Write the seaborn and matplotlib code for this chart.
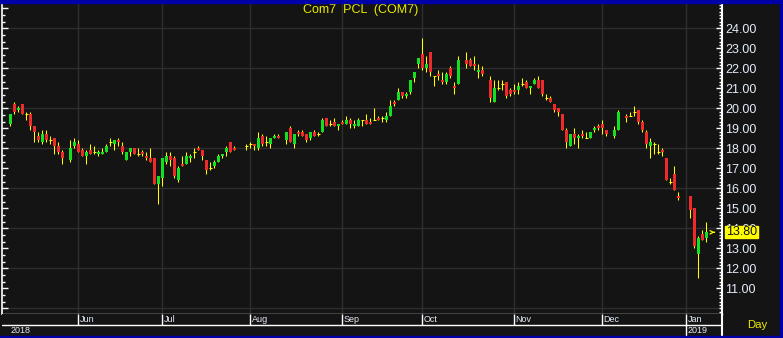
import numpy as np
import pandas as pd
import seaborn as sns
import matplotlib
matplotlib.use("Agg")
import matplotlib.pyplot as plt
from matplotlib.patches import Rectangle
from matplotlib import transforms
from matplotlib.ticker import MultipleLocator, FixedLocator

# ---------------- data ----------------
start_date = "2018-05-09"
end_date = "2019-01-08"
title = "Com7  PCL  (COM7)"
last_price = 13.80
price_ticks = list(range(11, 25))
month_labels = ["Jun", "Jul", "Aug", "Sep", "Oct", "Nov", "Dec", "Jan"]
year_labels = ["2018", "2019"]
N = None

open_ = [19.2, 20.2, 19.9, 20.2, 19.7, 19.7, 19.1, 18.6, 18.3, 18.7,
         18.4, 18.5, 18.1, 17.8, N, 17.4, 18.1, 18.2, 17.9, 17.6,
         17.9, 17.8, 17.7, 17.7, 17.8, 18.3, 18.2, 18.4, 18.1, 17.4,
         17.8, 18.0, 17.7, 17.8, 17.6, 17.5, 17.5, 16.2, 16.5, 17.3,
         17.6, 17.5, 16.4, 17.2, 17.2, 17.5, 17.8, 18.0, 17.9, 17.4,
         17.0, 17.1, 17.3, 17.6, 17.8, 18.3, 18.0, N, N, 18.1,
         18.2, 18.2, 18.0, 18.6, 18.3, 18.2, 18.5, 18.6, N, 18.4,
         19.0, 18.2, 18.8, 18.8, 18.7, 18.5, 18.8, 18.7, 18.8, 19.5,
         19.2, 19.3, 19.1, 19.3, 19.2, 19.4, 19.1, 19.1, 19.4, 19.4,
         19.3, 19.4, 19.5, 19.5, 19.4, 19.6, 20.3, 20.4, 20.8, 20.6,
         20.8, 21.5, 22.2, 22.7, 22.0, 22.8, 21.6, 21.7, 21.4, 21.3,
         22.0, 21.1, 21.2, N, 22.4, 22.4, 22.2, 21.8, 21.9, N,
         21.4, 20.3, 21.0, 21.2, 21.3, 20.9, 20.9, 20.9, 21.2, 21.3,
         21.0, 21.2, 21.4, 21.4, 20.5, 20.5, 20.2, 20.0, 19.7, 18.9,
         18.1, 18.7, 18.5, 18.7, 18.5, 18.5, 18.9, 19.1, 19.2, 18.9,
         N, 18.6, 18.9, N, 19.6, 19.6, 19.8, 19.9, 19.3, 18.8,
         18.1, 18.2, 17.8, 17.9, 17.5, 16.3, 16.7, 15.6, N, N,
         15.6, 15.0, 12.7, 13.7, 13.5]

high = [19.7, 20.3, 20.1, 20.2, 19.8, 19.8, 19.1, 18.8, 18.9, 18.9,
        18.6, 18.5, 18.3, 17.9, N, 18.4, 18.5, 18.4, 18.0, 17.9,
        18.2, 18.1, 17.9, 18.0, 18.2, 18.5, 18.4, 18.5, 18.3, 17.8,
        18.0, 18.0, 18.0, 17.9, 17.8, 18.0, 17.5, 16.6, 17.5, 17.8,
        17.8, 17.6, 17.1, 17.6, 17.8, 17.7, 18.0, 18.1, 17.9, 17.4,
        17.3, 17.4, 17.7, 17.7, 18.1, 18.3, 18.1, N, N, 18.2,
        18.3, 18.2, 18.8, 18.7, 18.6, 18.5, 18.7, 18.7, N, 18.8,
        19.1, 18.7, 18.9, 18.9, 18.7, 18.8, 18.9, 18.8, 19.5, 19.5,
        19.4, 19.5, 19.2, 19.4, 19.6, 19.5, 19.4, 19.5, 19.4, 19.7,
        19.5, 20.0, 19.6, 19.6, 19.8, 20.4, 20.4, 21.0, 20.8, 20.8,
        21.4, 21.8, 22.5, 23.5, 22.6, 22.8, 21.6, 21.9, 21.8, 21.8,
        22.1, 21.3, 22.6, N, 22.8, 22.5, 22.6, 22.2, 22.1, N,
        21.6, 21.4, 21.4, 21.4, 21.3, 21.0, 21.2, 21.3, 21.5, 21.4,
        21.1, 21.5, 21.6, 21.4, 20.7, 20.6, 20.2, 20.0, 19.7, 19.0,
        18.7, 19.0, 18.7, 18.9, 18.8, 18.8, 19.1, 19.2, 19.4, 18.9,
        N, 19.1, 19.9, N, 19.7, 19.8, 20.1, 19.9, 19.4, 18.9,
        18.5, 18.3, 18.2, 18.0, 17.5, 16.5, 17.1, 15.8, N, N,
        15.6, 15.0, 13.6, 13.9, 14.3]

low = [19.1, 19.7, 19.8, 19.7, 19.4, 18.9, 18.3, 18.3, 18.2, 18.3,
       18.2, 17.7, 17.7, 17.2, N, 17.3, 18.0, 17.8, 17.6, 17.2,
       17.7, 17.7, 17.6, 17.7, 17.8, 18.1, 17.9, 18.1, 17.7, 17.4,
       17.6, 17.7, 17.6, 17.6, 17.4, 17.3, 16.2, 15.2, 16.1, 17.2,
       17.1, 16.5, 16.3, 17.1, 17.2, 17.3, 17.5, 17.9, 17.4, 16.7,
       16.9, 17.0, 17.3, 17.5, 17.6, 17.8, 17.9, N, N, 17.9,
       18.0, 17.9, 17.9, 18.1, 18.1, 18.0, 18.5, 18.5, N, 18.2,
       18.3, 18.0, 18.6, 18.6, 18.3, 18.4, 18.6, 18.6, 18.8, 19.1,
       19.1, 19.1, 18.9, 19.2, 19.2, 19.0, 19.0, 19.1, 19.1, 19.2,
       19.2, 19.4, 19.4, 19.3, 19.3, 19.6, 20.1, 20.4, 20.5, 20.5,
       20.7, 21.3, 22.0, 21.9, 21.8, 21.6, 21.1, 21.4, 21.2, 21.2,
       21.5, 20.7, 21.2, N, 22.0, 22.1, 21.9, 21.5, 21.6, N,
       20.3, 20.3, 20.9, 20.9, 20.5, 20.6, 20.7, 20.7, 21.1, 21.0,
       20.7, 21.2, 21.0, 20.6, 20.4, 20.3, 19.8, 19.6, 18.9, 18.0,
       18.1, 18.2, 18.0, 18.5, 18.5, 18.5, 18.8, 18.9, 18.7, 18.6,
       N, 18.5, 18.9, N, 19.3, 19.6, 19.6, 19.2, 18.8, 18.0,
       17.5, 17.7, 17.7, 17.6, 16.4, 16.2, 15.9, 15.4, N, N,
       14.5, 13.0, 11.5, 13.4, 13.3]

close = [19.7, 19.8, 20.0, 19.7, 19.7, 19.1, 18.8, 18.4, 18.7, 18.4,
         18.4, 18.1, 17.8, 17.5, N, 18.0, 18.3, 17.8, 17.6, 17.8,
         17.7, 17.8, 17.8, 17.8, 18.1, 18.3, 18.4, 18.3, 17.8, 17.8,
         18.0, 17.7, 17.7, 17.7, 17.5, 17.3, 16.2, 16.6, 17.5, 17.6,
         17.4, 16.6, 17.0, 17.1, 17.6, 17.6, 17.8, 17.9, 17.6, 16.9,
         17.0, 17.3, 17.6, 17.7, 18.0, 17.8, 17.9, N, N, 18.1,
         18.2, 18.1, 18.5, 18.2, 18.3, 18.5, 18.6, 18.5, N, 18.8,
         18.3, 18.7, 18.7, 18.6, 18.4, 18.8, 18.6, 18.7, 19.4, 19.1,
         19.2, 19.1, 19.2, 19.2, 19.4, 19.2, 19.2, 19.4, 19.4, 19.2,
         19.2, 19.4, 19.4, 19.5, 19.6, 20.1, 20.2, 20.8, 20.6, 20.7,
         21.4, 21.8, 22.5, 22.0, 22.2, 21.8, 21.6, 21.6, 21.3, 21.7,
         21.6, 21.0, 22.4, N, 22.2, 22.1, 22.1, 21.9, 21.7, N,
         20.5, 21.0, 21.0, 21.2, 20.6, 20.7, 20.8, 21.1, 21.2, 21.0,
         21.1, 21.4, 21.0, 20.7, 20.5, 20.3, 19.9, 19.8, 18.9, 18.3,
         18.7, 18.5, 18.6, 18.6, 18.5, 18.8, 19.0, 19.0, 19.0, 18.7,
         N, 18.9, 19.8, N, 19.5, 19.6, 19.8, 19.3, 18.9, 18.2,
         18.3, 18.2, 17.8, 17.8, 16.4, 16.3, 15.9, 15.5, N, N,
         14.9, 13.1, 13.5, 13.4, 13.8]

# ---------------- style ----------------
BG = "#141414"
GRID = "#2e2e2e"
UP = "#12e020"
DOWN = "#f02a2a"
WICK = "#ffff00"
TXT = "#e4ecf8"
BLUE = "#0000a8"

sns.set_theme(style="dark", rc={"axes.facecolor": BG, "figure.facecolor": BG})
plt.rcParams["font.family"] = ["Liberation Sans", "DejaVu Sans"]

W, H = 783, 338
fig = plt.figure(figsize=(W / 100, H / 100), dpi=100, facecolor=BG)

df = pd.DataFrame({"date": pd.bdate_range(start_date, end_date),
                   "open": open_, "high": high, "low": low, "close": close})
df["slot"] = np.arange(len(df))

XL = (-2.075, 177.925)
YL = (9.715, 25.265)

ax = fig.add_axes([2 / W, (H - 314) / H, 720 / W, 311 / H])
ax.set_facecolor(BG)
ax.set_xlim(*XL)
ax.set_ylim(*YL)

# grid
for gy in range(10, 26, 2):
    ax.axhline(gy, color=GRID, lw=1.0, zorder=0)
month_first = df.groupby(df["date"].dt.to_period("M"))["slot"].min().values[1:]
for mx in month_first:
    ax.axvline(mx, color=GRID, lw=1.0, zorder=0)

# candles
v = df.dropna()
up = v[v["close"] > v["open"]]
dn = v[v["close"] < v["open"]]
dj = v[v["close"] == v["open"]]
ax.vlines(v["slot"], v["low"], v["high"], color=WICK, lw=0.75, zorder=2)
ax.bar(up["slot"], up["close"] - up["open"], bottom=up["open"], width=0.8,
       color=UP, edgecolor="none", linewidth=0, zorder=3)
ax.bar(dn["slot"], dn["open"] - dn["close"], bottom=dn["close"], width=0.8,
       color=DOWN, edgecolor="none", linewidth=0, zorder=3)
ax.hlines(dj["open"], dj["slot"] - 0.4, dj["slot"] + 0.4, color=WICK, lw=0.75,
          zorder=3)

# last price arrow
ax.annotate("", xy=(176.8, last_price), xytext=(175.3, last_price),
            arrowprops=dict(arrowstyle="->", color=WICK, lw=0.9, mutation_scale=6),
            annotation_clip=False)

# left axis ticks
ax.yaxis.set_major_locator(MultipleLocator(1))
ax.yaxis.set_minor_locator(MultipleLocator(1 / 3))
ax.tick_params(axis="y", which="major", direction="in", length=4, width=1,
               color="white", left=True, right=False, labelleft=False)
ax.tick_params(axis="y", which="minor", direction="in", length=2, width=1,
               color="white", left=True, right=False)
ax.tick_params(axis="x", bottom=False, labelbottom=False)
ax.grid(False)
for s in ["top", "right"]:
    ax.spines[s].set_visible(False)
ax.spines["left"].set_color("white")
ax.spines["left"].set_linewidth(1.2)
ax.spines["bottom"].set_color("white")
ax.spines["bottom"].set_linewidth(1.0)

# right axis
ax2 = ax.twinx()
ax2.set_ylim(*YL)
ax2.grid(False)
ax2.yaxis.set_major_locator(FixedLocator(price_ticks))
ax2.yaxis.set_minor_locator(MultipleLocator(1 / 6))
ax2.set_yticklabels([f"{t:.2f}" for t in price_ticks])
ax2.tick_params(axis="y", which="major", direction="in", length=4, width=1,
                color="white", right=True, labelright=True, pad=2.2,
                labelsize=9, labelcolor=TXT)
ax2.tick_params(axis="y", which="minor", direction="in", length=2, width=1,
                color="white", right=True)
for s in ["top", "left", "bottom"]:
    ax2.spines[s].set_visible(False)
ax2.spines["right"].set_color("white")
ax2.spines["right"].set_linewidth(1.5)

# last price label
blend = transforms.blended_transform_factory(ax2.transAxes, ax2.transData)
ax2.add_patch(Rectangle(((725 - 2) / 720, last_price - 0.3), 33 / 720, 0.6,
                        transform=blend, clip_on=False, color=WICK, zorder=10))
ax2.text((741.5 - 2) / 720, last_price, f"{last_price:.2f}", transform=blend,
         ha="center", va="center", fontsize=9, color="#101010", zorder=11, clip_on=False)

# date band
axd = fig.add_axes([2 / W, (H - 336) / H, 720 / W, 22 / H])
axd.set_facecolor(BG)
axd.set_xlim(*XL)
axd.set_ylim(0, 22)
axd.set_xticks([])
axd.set_yticks([])
axd.grid(False)
for s in ["top", "left", "bottom"]:
    axd.spines[s].set_visible(False)
axd.spines["right"].set_color("white")
axd.spines["right"].set_linewidth(1.5)
axd.axhline(11, color="white", lw=1.0)
for mx, lab in zip(month_first, month_labels):
    lo = 0 if lab == "Jan" else 11
    axd.vlines(mx, lo, 22, color="white", lw=1.0)
    axd.text(mx + 0.3, 16.3, lab, ha="left", va="center", fontsize=6.5, color=TXT)
axd.text(0.175, 5.3, year_labels[0], ha="left", va="center", fontsize=6.5, color=TXT)
axd.text(month_first[-1] + 0.4, 5.3, year_labels[1], ha="left", va="center",
         fontsize=6.5, color=TXT)

# texts
fig.text(361 / W, 1 - 10 / H, title, ha="center", va="center", fontsize=9, color="#ecec00")
fig.text(747 / W, 1 - 325.5 / H, "Day", ha="left", va="center", fontsize=8.2, color="#ecec00")

# blue frame
fig.patches.append(Rectangle((0, 1 - 2.7 / H), 1, 2.7 / H, transform=fig.transFigure,
                             color=BLUE, zorder=20))
fig.patches.append(Rectangle((779.5 / W, 0), 3.5 / W, 1, transform=fig.transFigure,
                             color=BLUE, zorder=20))
fig.patches.append(Rectangle((0, 0), 1, 2.3 / H, transform=fig.transFigure,
                             color=BLUE, zorder=20))

fig.savefig("out.png", dpi=100, facecolor=BG)
